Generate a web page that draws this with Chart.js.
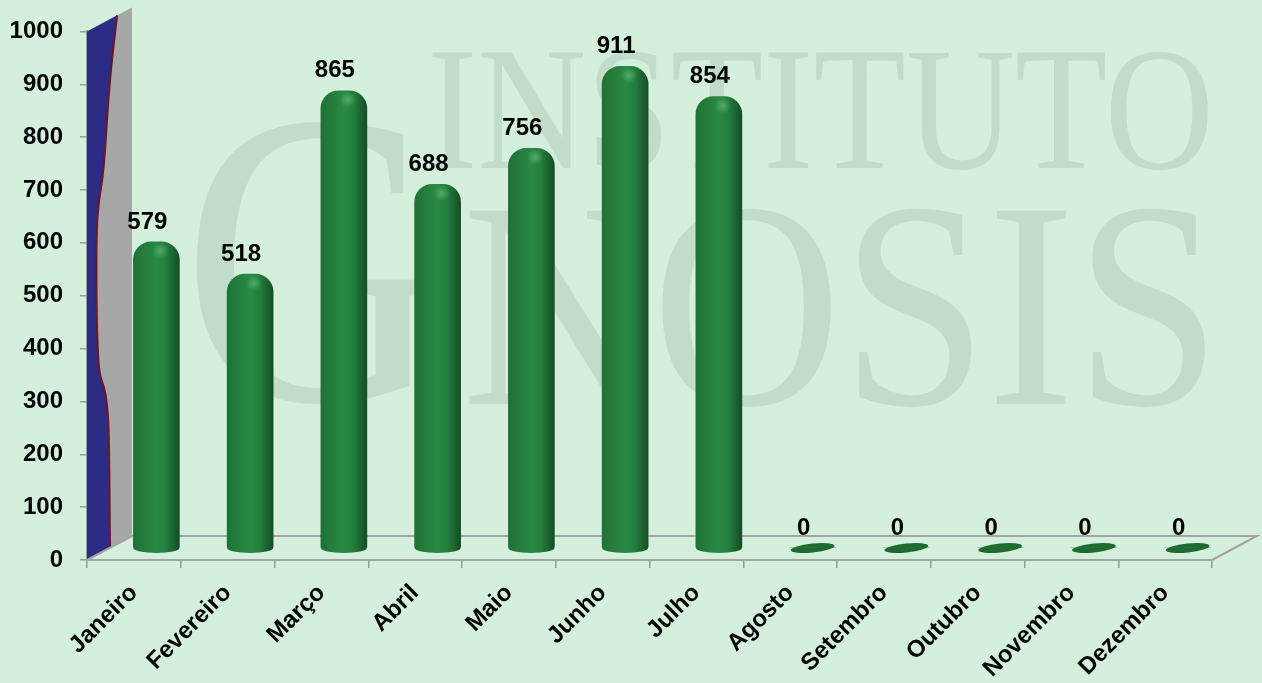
<!DOCTYPE html>
<html>
<head>
<meta charset="utf-8">
<script src="https://cdn.jsdelivr.net/npm/chart.js@4.4.1/dist/chart.umd.min.js"></script>
<style>
html, body { margin: 0; padding: 0; background: #d4efdb; }
</style>
</head>
<body>

<canvas id="myChart" width="1262" height="683"></canvas>

<script>
var meses = ["Janeiro", "Fevereiro", "Março", "Abril", "Maio", "Junho", "Julho",
             "Agosto", "Setembro", "Outubro", "Novembro", "Dezembro"];
var valores = [579, 518, 865, 688, 756, 911, 854, 0, 0, 0, 0, 0];
var escalaMin = 0, escalaMax = 1000, escalaPasso = 100;

// profundidade do "3D": deslocamento do fundo em relação à frente
var DX = 45, DY = -24;
var FONTE = '"Liberation Sans", Arial, sans-serif';

function corCilindro(c) {
  var chart = c.chart;
  if (!chart.scales || !chart.scales.x) return '#237a3c';
  var cx = chart.scales.x.getPixelForValue(c.dataIndex);
  if (!isFinite(cx)) return '#237a3c';
  var g = chart.ctx.createLinearGradient(cx - 23, 0, cx + 23, 0);
  g.addColorStop(0, '#1f7136');
  g.addColorStop(0.5, '#2a8a45');
  g.addColorStop(0.72, '#227d3c');
  g.addColorStop(1, '#154d26');
  return g;
}

function marcaDagua(ctx) {
  ctx.save();
  ctx.fillStyle = '#c1dcc8';
  ctx.textBaseline = 'alphabetic';
  ctx.textAlign = 'left';
  function texto(t, tam, x, base, largura) {
    ctx.save();
    ctx.font = tam + 'px "Liberation Serif", "Times New Roman", serif';
    var w = ctx.measureText(t).width;
    ctx.translate(x, base);
    ctx.scale(largura / w, 1);
    ctx.fillText(t, 0, 0);
    ctx.restore();
  }
  texto('INSTITUTO', 175, 427, 168, 787);
  texto('G', 420, 182, 400, 262);
  texto('NOSIS', 295, 462, 404, 759);
  ctx.restore();
}

var cena3d = {
  id: 'cena3d',
  beforeDraw: function (chart) {
    var ctx = chart.ctx;
    ctx.save();
    ctx.fillStyle = '#d4efdb';
    ctx.fillRect(0, 0, chart.width, chart.height);
    ctx.restore();
    marcaDagua(ctx);
  },
  beforeDatasetsDraw: function (chart) {
    var ctx = chart.ctx, a = chart.chartArea, y = chart.scales.y, x = chart.scales.x;
    var topo = y.getPixelForValue(escalaMax), base = y.getPixelForValue(0);
    ctx.save();

    // parede lateral
    ctx.beginPath();
    ctx.moveTo(a.left, base);
    ctx.lineTo(a.left, topo);
    ctx.lineTo(a.left + DX, topo + DY);
    ctx.lineTo(a.left + DX, base + DY);
    ctx.closePath();
    ctx.fillStyle = '#a7a7a7';
    ctx.fill();

    // faixa azul com borda ondulada (valor, fração da profundidade)
    var onda = [[1000, 0.67], [920, 0.55], [845, 0.47], [717, 0.37], [667, 0.26], [612, 0.21],
                [480, 0.21], [403, 0.23], [340, 0.27], [310, 0.38], [280, 0.44], [224, 0.49],
                [5, 0.51], [0, 0.52]];
    var pts = onda.map(function (o) {
      return [a.left + o[1] * DX, y.getPixelForValue(o[0]) + o[1] * DY];
    });
    function curva() {
      for (var i = 1; i < pts.length - 1; i++) {
        var mx = (pts[i][0] + pts[i + 1][0]) / 2, my = (pts[i][1] + pts[i + 1][1]) / 2;
        ctx.quadraticCurveTo(pts[i][0], pts[i][1], mx, my);
      }
      ctx.lineTo(pts[pts.length - 1][0], pts[pts.length - 1][1]);
    }
    ctx.beginPath();
    ctx.moveTo(a.left, base);
    ctx.lineTo(a.left, topo);
    ctx.lineTo(pts[0][0], pts[0][1]);
    curva();
    ctx.closePath();
    ctx.fillStyle = '#2c2c86';
    ctx.fill();

    ctx.beginPath();
    ctx.moveTo(pts[0][0], pts[0][1]);
    curva();
    ctx.strokeStyle = '#6a1828';
    ctx.lineWidth = 2;
    ctx.stroke();

    // contorno do piso
    ctx.strokeStyle = '#a3a3a3';
    ctx.lineWidth = 2;
    ctx.beginPath();
    ctx.moveTo(a.left, base);
    ctx.lineTo(a.left + DX, base + DY);
    ctx.lineTo(a.right + DX, base + DY);
    ctx.lineTo(a.right, base);
    ctx.stroke();

    // bases elípticas dos cilindros
    ctx.translate(DX / 2, DY / 2);
    valores.forEach(function (v, k) {
      var cx = x.getPixelForValue(k);
      ctx.beginPath();
      if (v === 0) {
        ctx.ellipse(cx, base, 22, 4.5, -0.1, 0, Math.PI * 2);
        ctx.fillStyle = '#1f6a31';
      } else {
        ctx.ellipse(cx, base, 23, 5, 0, 0, Math.PI * 2);
        ctx.fillStyle = corCilindro({ chart: chart, dataIndex: k });
      }
      ctx.fill();
    });
    ctx.restore();

    // as barras são desenhadas no plano do meio da profundidade
    ctx.save();
    ctx.translate(DX / 2, DY / 2);
  },
  afterDatasetsDraw: function (chart) {
    var ctx = chart.ctx;
    ctx.restore();
    var x = chart.scales.x, y = chart.scales.y;
    ctx.save();

    // brilho no topo de cada cilindro
    valores.forEach(function (v, k) {
      if (v === 0) return;
      var cx = x.getPixelForValue(k) + DX / 2 + 4;
      var cy = y.getPixelForValue(v) + DY / 2 + 9;
      var g = ctx.createRadialGradient(cx, cy, 0, cx, cy, 8);
      g.addColorStop(0, 'rgba(120,200,140,0.55)');
      g.addColorStop(1, 'rgba(120,200,140,0)');
      ctx.fillStyle = g;
      ctx.fillRect(cx - 8, cy - 8, 16, 16);
    });

    // rótulos de valor
    ctx.font = 'bold 24px ' + FONTE;
    ctx.fillStyle = '#000';
    ctx.textAlign = 'center';
    ctx.textBaseline = 'middle';
    valores.forEach(function (v, k) {
      var cx = x.getPixelForValue(k) + DX / 2 - 9;
      var cy = y.getPixelForValue(v) + DY / 2 - 20;
      ctx.fillText(String(v), cx, cy);
    });
    ctx.restore();
  }
};

new Chart("myChart", {
  type: 'bar',
  data: {
    labels: meses,
    datasets: [{
      data: valores,
      backgroundColor: corCilindro,
      borderWidth: 0,
      borderRadius: { topLeft: 18, topRight: 18, bottomLeft: 0, bottomRight: 0 },
      borderSkipped: 'start',
      barThickness: 46
    }]
  },
  options: {
    responsive: false,
    animation: false,
    devicePixelRatio: 1,
    layout: { padding: { top: 29, right: 50, left: 0, bottom: 0 } },
    plugins: {
      legend: { display: false },
      tooltip: { enabled: false }
    },
    scales: {
      y: {
        min: escalaMin,
        max: escalaMax,
        afterFit: function (s) { s.width = 87; },
        ticks: {
          stepSize: escalaPasso,
          color: '#000',
          padding: 17,
          font: { family: FONTE, size: 24, weight: 'bold' },
          callback: function (v) { return String(v); }
        },
        grid: { drawOnChartArea: false, tickLength: 7, color: '#999', lineWidth: 1.5 },
        border: { color: '#9a9a9a', width: 2 }
      },
      x: {
        afterFit: function (s) { s.height = 123; },
        ticks: {
          autoSkip: false,
          minRotation: 45,
          maxRotation: 45,
          padding: 11,
          color: '#000',
          font: { family: FONTE, size: 24, weight: 'bold' }
        },
        grid: { offset: true, drawOnChartArea: false, tickLength: 8, color: '#999', lineWidth: 1.5 },
        border: { color: '#a3a3a3', width: 2 }
      }
    }
  },
  plugins: [cena3d]
});
</script>

</body>
</html>
